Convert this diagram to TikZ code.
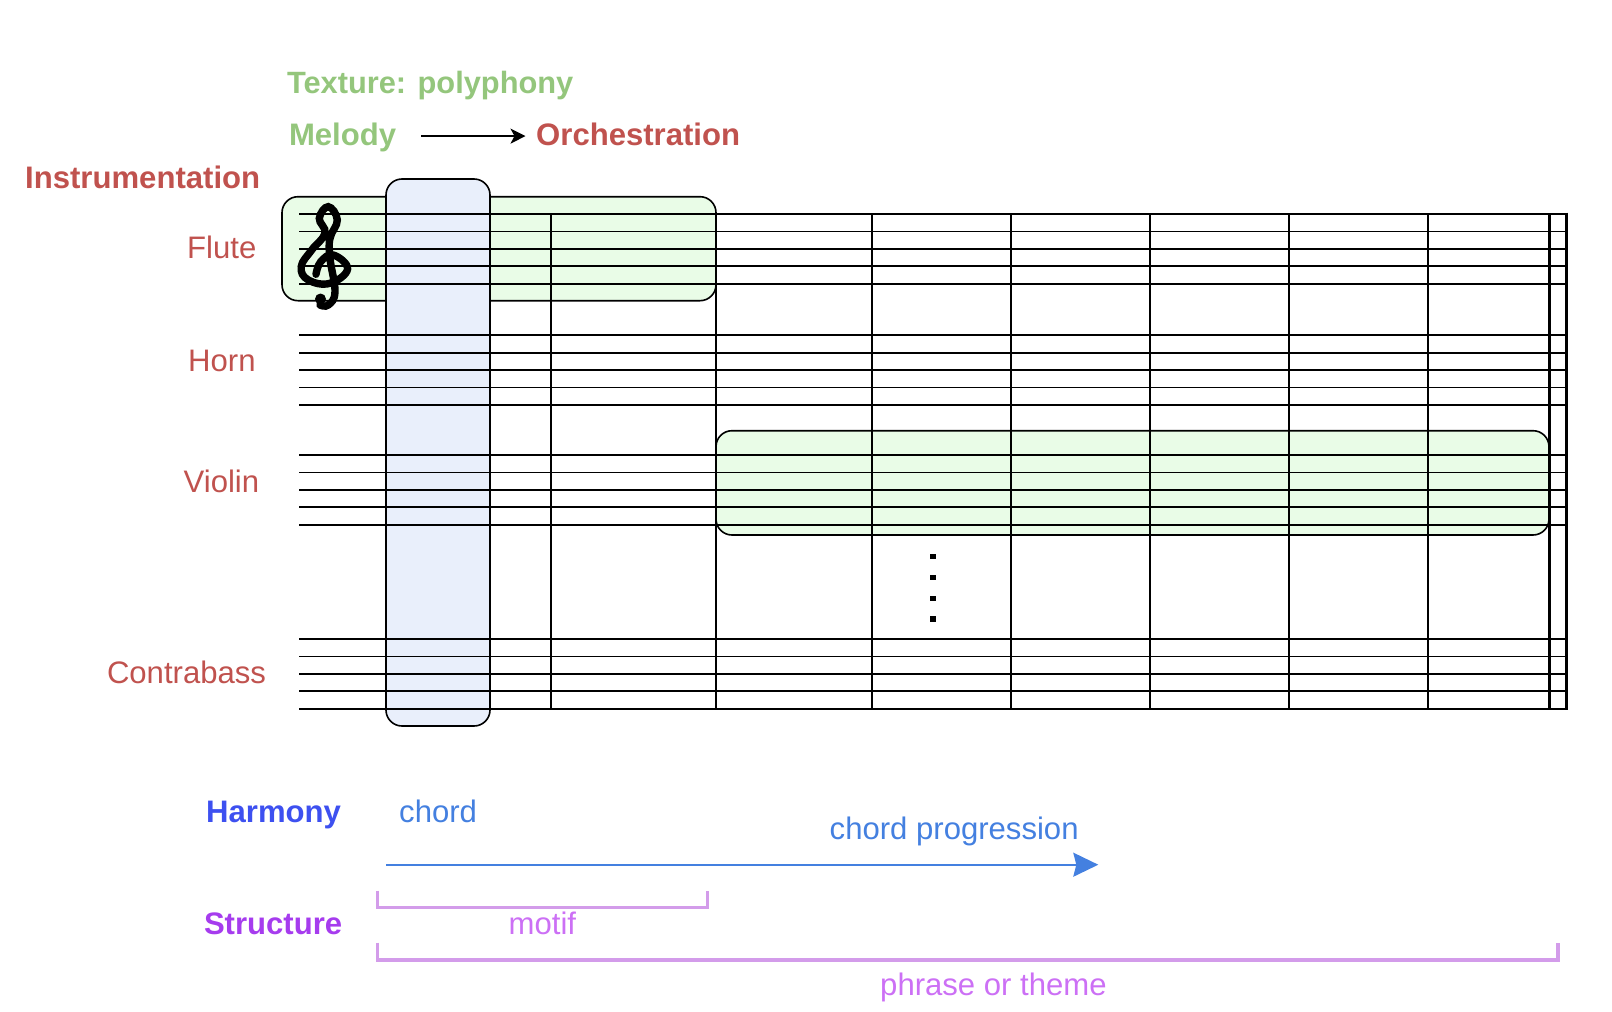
\documentclass[tikz,border=0pt]{standalone}
\usepackage{fontspec}
\setmainfont{Liberation Sans}
\usetikzlibrary{arrows.meta}
\definecolor{melodygreen}{HTML}{94C67C}
\definecolor{instred}{HTML}{C0524E}
\definecolor{harmblue}{HTML}{3D50F0}
\definecolor{chordblue}{HTML}{4480E0}
\definecolor{structpurple}{HTML}{A63CEE}
\definecolor{motifpurple}{HTML}{CC70F5}
\definecolor{bracketpurple}{HTML}{D39CEA}
\definecolor{greenfill}{HTML}{E9FCE7}
\definecolor{bluefill}{HTML}{E9EFFB}
\tikzset{
  label/.style={inner sep=0pt, anchor=base west, text height=25pt, text depth=6pt, font=\fontsize{31.1}{36}\selectfont},
  boldlabel/.style={label, font=\fontsize{31.1}{36}\selectfont\bfseries},
  staffline/.style={line width=1.8pt},
  box/.style={draw, line width=1.6pt, rounded corners=16pt},
  bracket/.style={draw=bracketpurple, line width=3.5pt},
}
\begin{document}
\begin{tikzpicture}[x=1pt,y=-1pt]
    \useasboundingbox (0,0) rectangle (1612,1012);

    \draw[box, fill=greenfill] (282,196.7) rectangle (716,300.7);
    \draw[box, fill=greenfill] (716,430.7) rectangle (1549,535);
    \draw[box, fill=bluefill] (386,179) rectangle (490,726);

    % staves
    \foreach \y in {214,335.3,455,639}
      \foreach \k in {0,1,2,3,4}
        \draw[staffline] (299.3,{\y+17.4*\k}) -- (1566.7,{\y+17.4*\k});

    % bar lines
    \foreach \x in {551,716,872.3,1011,1150,1289,1427.7}
      \draw[staffline] (\x,214) -- (\x,708.6);
    \draw[line width=3.6pt] (1549.3,214) -- (1549.3,708.6);
    \draw[line width=3pt] (1566.7,212.5) -- (1566.7,710);

    % clef
    \draw[line width=7.4pt, line cap=round] plot[smooth, tension=0.7] coordinates {
      (316,274.3) (320.7,261.7) (333.3,255) (347.6,269) (330,283.3) (308.3,280)
      (301.2,266.7) (311.7,250) (325,233.3) (319.3,218.3) (328.3,206.7) (337.3,220)
      (330,238.3) (330,258.3) (335,291.7) (328.3,305) (320,305)};
    \fill (320.5,299) circle (5.5);

    % dots
    \foreach \y in {556.7,577.4,598.2,619}
      \fill (930.3,{\y-2.7}) rectangle ++(5.4,5.4);

    \node[boldlabel, text=melodygreen, font=\fontsize{30.8}{36}\selectfont\bfseries] (texture) at (286.8,93.4) {Texture: polyphony};
    \node[boldlabel, text=melodygreen] (melody) at (288.8,145.6) {Melody};
    \node[boldlabel, text=instred] (orchestration) at (536,145.6) {Orchestration};
    \node[boldlabel, text=instred] (instrumentation) at (25,188.6) {Instrumentation};
    \draw[-{Stealth[length=15pt,width=15pt,inset=4pt]}, line width=1.6pt, shorten <=25pt, shorten >=10.5pt] (melody.east) -- (orchestration.west);

    \node[label, text=instred] (flute) at (187,258.4) {Flute};
    \node[label, text=instred] (horn) at (188,371.4) {Horn};
    \node[label, text=instred] (violin) at (183.5,492.6) {Violin};
    \node[label, text=instred] (contrabass) at (106.8,683.4) {Contrabass};

    \node[boldlabel, text=harmblue] (harmony) at (206,822.4) {Harmony};
    \node[boldlabel, text=structpurple] (structure) at (203.8,934.6) {Structure};
    \node[label, text=chordblue] (chord) at (399,822.4) {chord};
    \node[label, text=chordblue] (progression) at (829.5,839.6) {chord progression};
    \node[label, text=motifpurple] (motif) at (508.5,934.6) {motif};
    \node[label, text=motifpurple] (phrase) at (880,995.6) {phrase or theme};

    \coordinate (progstart) at (386,864.7);
    \coordinate (progend) at (1098.3,864.7);
    \draw[chordblue, line width=1.8pt, -{Stealth[length=25pt,width=24pt,inset=3pt]}] (progstart) -- (progend);

    \draw[bracket] (377.6,890.7) -- (377.6,907.7) -- (707.6,907.7) -- (707.6,890.7);
    \draw[bracket] (377.6,942.7) -- (377.6,960) -- (1558,960) -- (1558,942.7);
\end{tikzpicture}
\end{document}
